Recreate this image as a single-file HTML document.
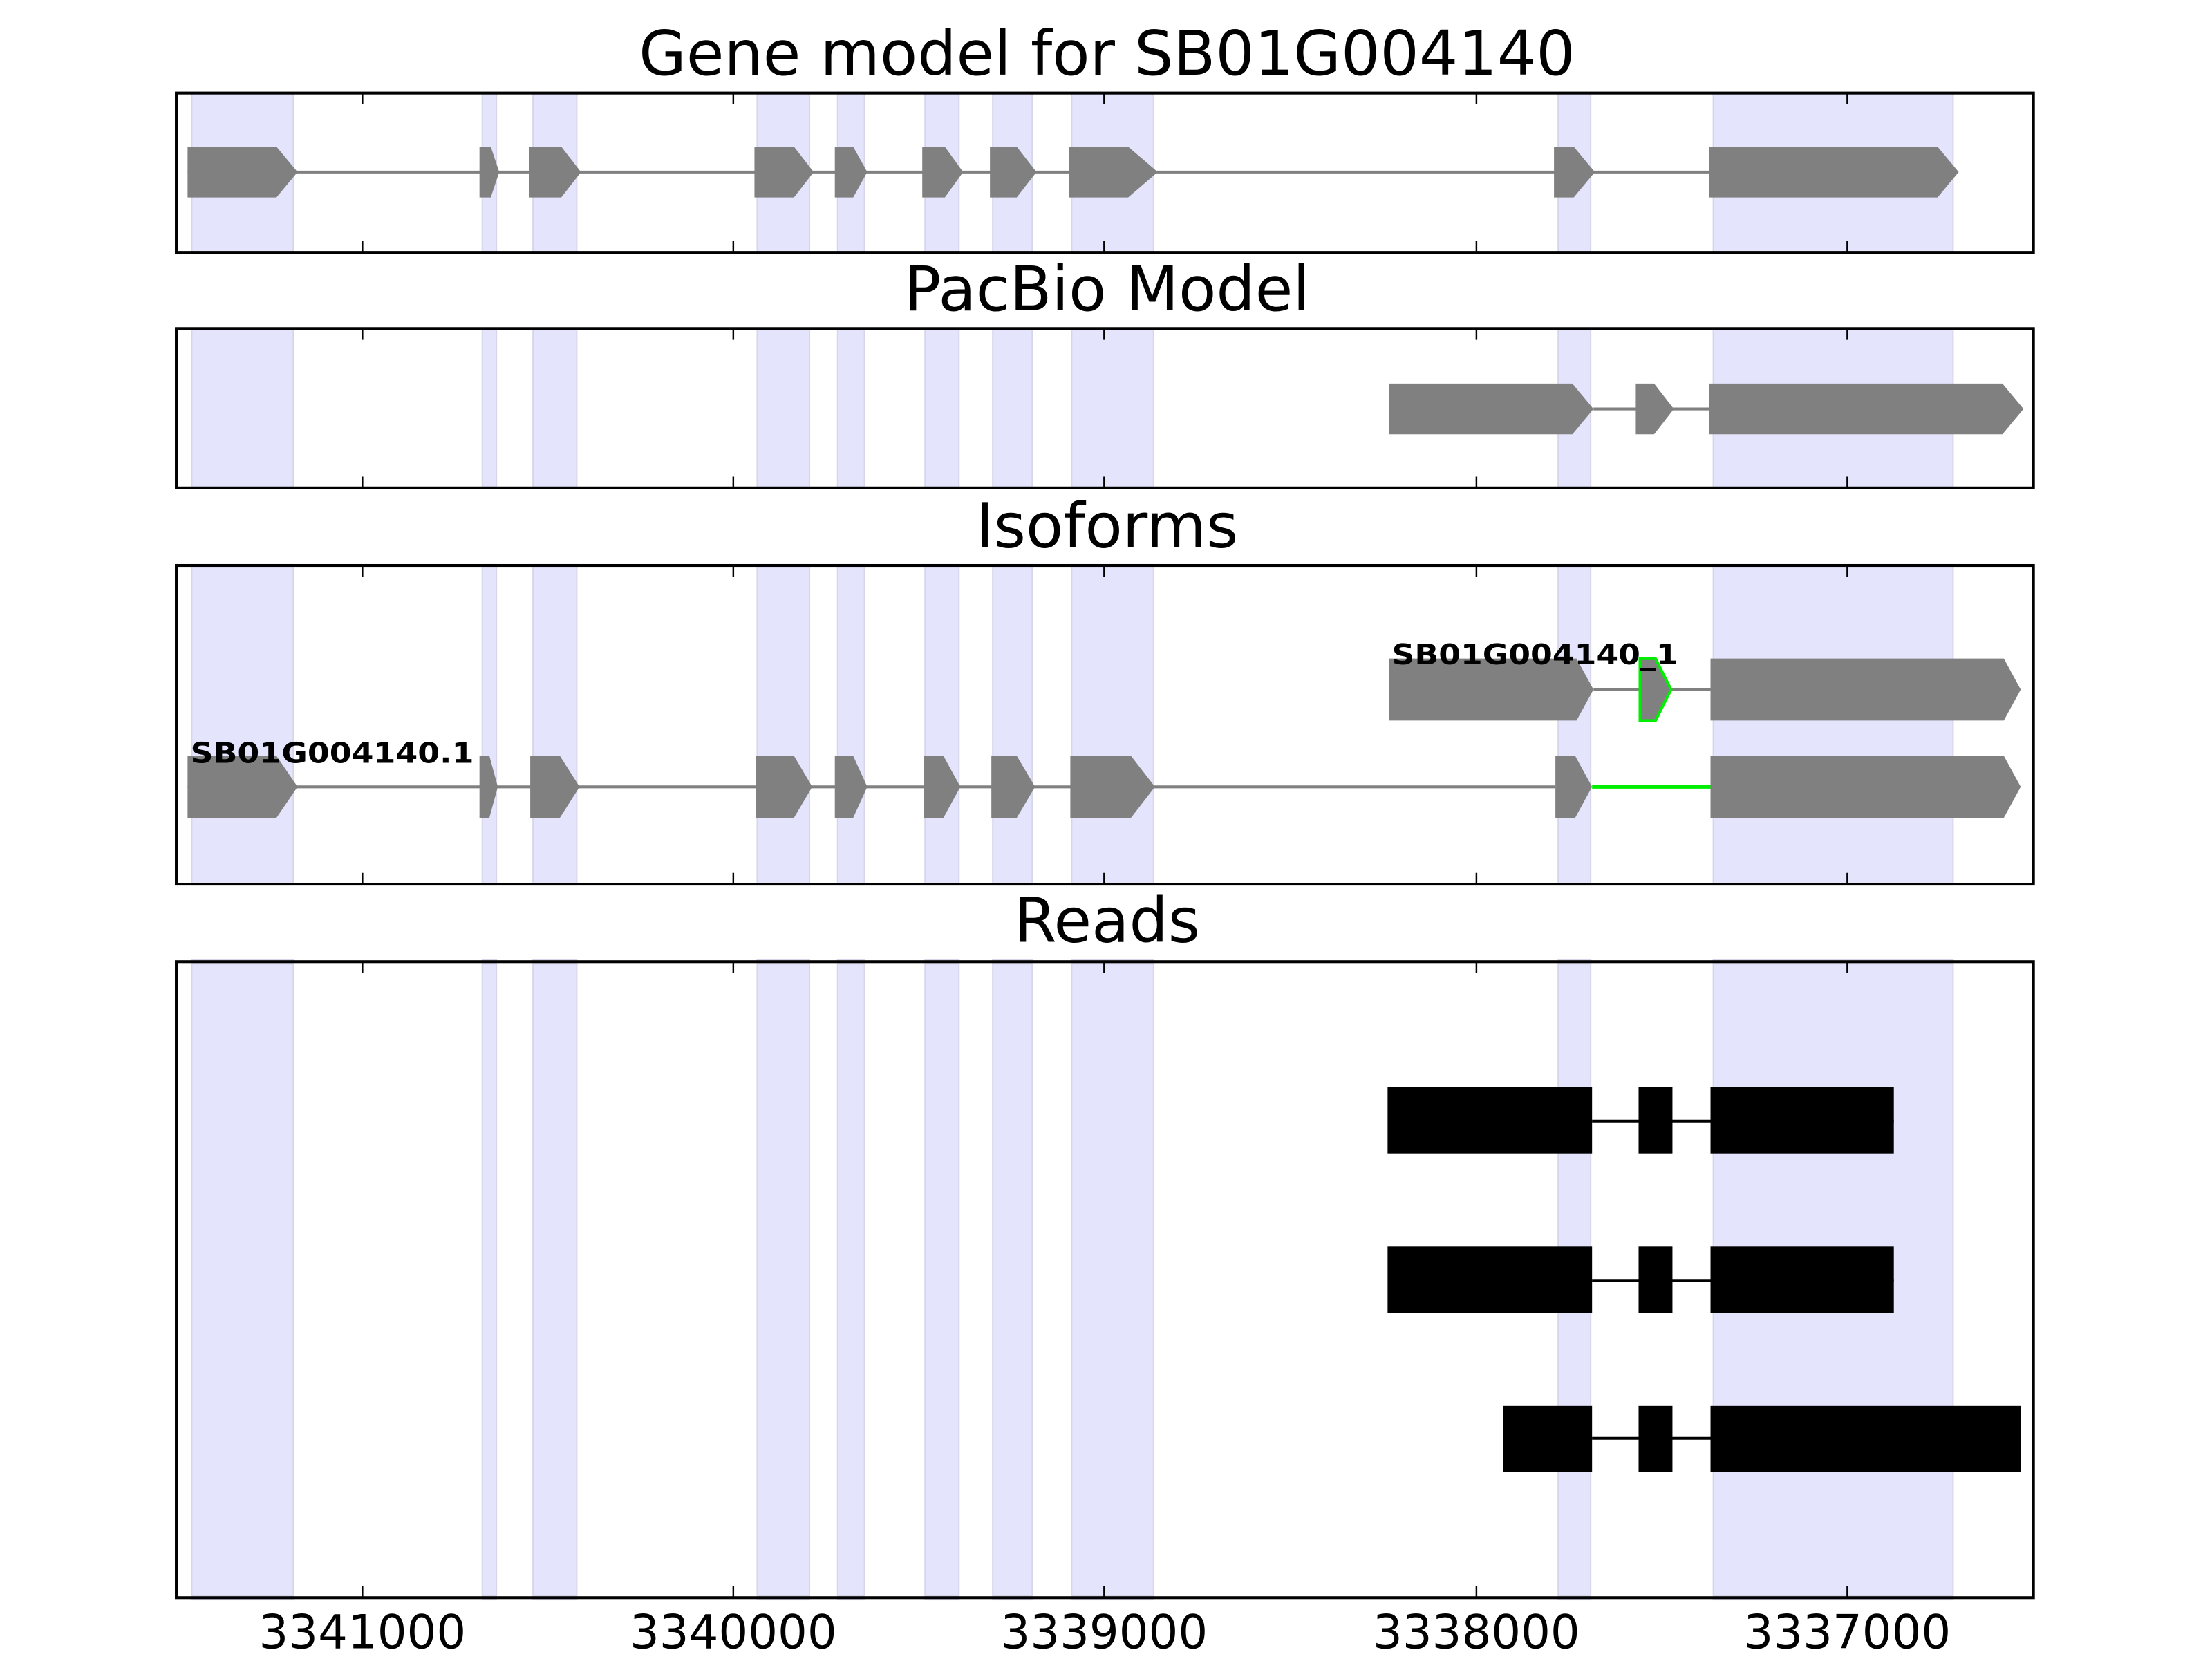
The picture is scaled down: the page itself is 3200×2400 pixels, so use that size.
<!DOCTYPE html>
<html><head><meta charset="utf-8"><style>
html,body{margin:0;padding:0;background:#fff;}
svg{display:block;}
text{font-family:"DejaVu Sans","Liberation Sans",sans-serif;}
</style></head><body>
<svg width="3200" height="2400" viewBox="0 0 1568.6 1176.5" xmlns="http://www.w3.org/2000/svg">
<rect width="1568.6" height="1176.5" fill="#fff"/>

<!-- titles -->
<text x="785" y="53" font-size="43.5" text-anchor="middle">Gene model for SB01G004140</text>
<text x="785" y="220" font-size="43.5" text-anchor="middle">PacBio Model</text>
<text x="785" y="388" font-size="43.5" text-anchor="middle">Isoforms</text>
<text x="785" y="668" font-size="43.5" text-anchor="middle">Reads</text>

<!-- shading per panel -->
<g fill="#e4e4fc" stroke="#d6d6ea" stroke-width="1">
<g>
<rect x="136" y="66" width="72" height="113"/><rect x="342" y="66" width="10" height="113"/><rect x="378" y="66" width="31" height="113"/><rect x="537" y="66" width="37" height="113"/><rect x="594" y="66" width="19" height="113"/><rect x="656" y="66" width="24" height="113"/><rect x="704" y="66" width="28" height="113"/><rect x="760" y="66" width="58" height="113"/><rect x="1105" y="66" width="23" height="113"/><rect x="1215" y="66" width="170" height="113"/>
</g>
<g transform="translate(0,167)"><rect x="136" y="66" width="72" height="113"/><rect x="342" y="66" width="10" height="113"/><rect x="378" y="66" width="31" height="113"/><rect x="537" y="66" width="37" height="113"/><rect x="594" y="66" width="19" height="113"/><rect x="656" y="66" width="24" height="113"/><rect x="704" y="66" width="28" height="113"/><rect x="760" y="66" width="58" height="113"/><rect x="1105" y="66" width="23" height="113"/><rect x="1215" y="66" width="170" height="113"/></g>
<g transform="translate(0,401) scale(1,2) translate(0,-66)"><rect x="136" y="66" width="72" height="113"/><rect x="342" y="66" width="10" height="113"/><rect x="378" y="66" width="31" height="113"/><rect x="537" y="66" width="37" height="113"/><rect x="594" y="66" width="19" height="113"/><rect x="656" y="66" width="24" height="113"/><rect x="704" y="66" width="28" height="113"/><rect x="760" y="66" width="58" height="113"/><rect x="1105" y="66" width="23" height="113"/><rect x="1215" y="66" width="170" height="113"/></g>
<g transform="translate(0,682) scale(1,3.99) translate(0,-66)"><rect x="136" y="66" width="72" height="113"/><rect x="342" y="66" width="10" height="113"/><rect x="378" y="66" width="31" height="113"/><rect x="537" y="66" width="37" height="113"/><rect x="594" y="66" width="19" height="113"/><rect x="656" y="66" width="24" height="113"/><rect x="704" y="66" width="28" height="113"/><rect x="760" y="66" width="58" height="113"/><rect x="1105" y="66" width="23" height="113"/><rect x="1215" y="66" width="170" height="113"/></g>
</g>

<!-- panel 1 gene model -->
<g fill="#808080">
<line x1="133" y1="122" x2="1212" y2="122" stroke="#808080" stroke-width="2"/>
<polygon points="133,104 196,104 211,122 196,140 133,140"/>
<polygon points="340,104 348,104 354,122 348,140 340,140"/>
<polygon points="375,104 398,104 412,122 398,140 375,140"/>
<polygon points="535,104 563,104 577,122 563,140 535,140"/>
<polygon points="592,104 605,104 615,122 605,140 592,140"/>
<polygon points="654,104 670,104 683,122 670,140 654,140"/>
<polygon points="702,104 721,104 735,122 721,140 702,140"/>
<polygon points="758,104 800,104 821,122 800,140 758,140"/>
<polygon points="1102,104 1116,104 1131,122 1116,140 1102,140"/>
<polygon points="1212,104 1374,104 1389,122 1374,140 1212,140"/>
</g>

<!-- panel 2 pacbio -->
<g fill="#808080">
<line x1="1130" y1="290" x2="1212" y2="290" stroke="#808080" stroke-width="2"/>
<polygon points="985,272 1115,272 1130,290 1115,308 985,308"/>
<polygon points="1160,272 1173,272 1187,290 1173,308 1160,308"/>
<polygon points="1212,272 1420,272 1435,290 1420,308 1212,308"/>
</g>

<!-- panel 3 isoforms -->
<g fill="#808080">
<line x1="1130" y1="489" x2="1213" y2="489" stroke="#808080" stroke-width="2"/>
<polygon points="985,467 1118,467 1130,489 1118,511 985,511"/>
<polygon points="1163,467 1174,467 1185,489 1174,511 1163,511" stroke="#00ee00" stroke-width="2"/>
<polygon points="1213,467 1421,467 1433,489 1421,511 1213,511"/>
<line x1="133" y1="558" x2="1103" y2="558" stroke="#808080" stroke-width="2"/>
<line x1="1129" y1="558" x2="1214" y2="558" stroke="#00ee00" stroke-width="2.5"/>
<polygon points="133,536 196,536 211,558 196,580 133,580"/>
<polygon points="340,536 347,536 353,558 347,580 340,580"/>
<polygon points="376,536 397,536 411,558 397,580 376,580"/>
<polygon points="536,536 563,536 576,558 563,580 536,580"/>
<polygon points="592,536 605,536 615,558 605,580 592,580"/>
<polygon points="655,536 669,536 681,558 669,580 655,580"/>
<polygon points="703,536 721,536 734,558 721,580 703,580"/>
<polygon points="759,536 802,536 819,558 802,580 759,580"/>
<polygon points="1103,536 1117,536 1129,558 1117,580 1103,580"/>
<polygon points="1213,536 1421,536 1433,558 1421,580 1213,580"/>
</g>
<text x="987" y="471" font-size="20" font-weight="bold" textLength="203" lengthAdjust="spacingAndGlyphs">SB01G004140_1</text>
<text x="135" y="541" font-size="20" font-weight="bold" textLength="201" lengthAdjust="spacingAndGlyphs">SB01G004140.1</text>

<!-- panel 4 reads -->
<g fill="#000">
<line x1="1129" y1="795" x2="1343" y2="795" stroke="#000" stroke-width="2"/>
<rect x="984" y="771" width="145" height="47"/><rect x="1162" y="771" width="24" height="47"/><rect x="1213" y="771" width="130" height="47"/>
<line x1="1129" y1="908" x2="1343" y2="908" stroke="#000" stroke-width="2"/>
<rect x="984" y="884" width="145" height="47"/><rect x="1162" y="884" width="24" height="47"/><rect x="1213" y="884" width="130" height="47"/>
<line x1="1129" y1="1020" x2="1433" y2="1020" stroke="#000" stroke-width="2"/>
<rect x="1066" y="997" width="63" height="47"/><rect x="1162" y="997" width="24" height="47"/><rect x="1213" y="997" width="220" height="47"/>
</g>

<!-- axes frames and ticks -->
<g fill="none" stroke="#000" stroke-width="2">
<rect x="125" y="66" width="1317" height="113"/>
<rect x="125" y="233" width="1317" height="113"/>
<rect x="125" y="401" width="1317" height="226"/>
<rect x="125" y="682" width="1317" height="451"/>
</g>
<g stroke="#000" stroke-width="1.2">
<path d="M257,66v8M520,66v8M783,66v8M1047,66v8M1310,66v8M257,179v-8M520,179v-8M783,179v-8M1047,179v-8M1310,179v-8"/>
<path d="M257,233v8M520,233v8M783,233v8M1047,233v8M1310,233v8M257,346v-8M520,346v-8M783,346v-8M1047,346v-8M1310,346v-8"/>
<path d="M257,401v8M520,401v8M783,401v8M1047,401v8M1310,401v8M257,627v-8M520,627v-8M783,627v-8M1047,627v-8M1310,627v-8"/>
<path d="M257,682v8M520,682v8M783,682v8M1047,682v8M1310,682v8M257,1133v-8M520,1133v-8M783,1133v-8M1047,1133v-8M1310,1133v-8"/>
</g>
<g font-size="33" text-anchor="middle">
<text x="257" y="1169">3341000</text>
<text x="520" y="1169">3340000</text>
<text x="783" y="1169">3339000</text>
<text x="1047" y="1169">3338000</text>
<text x="1310" y="1169">3337000</text>
</g>
</svg>
</body></html>
